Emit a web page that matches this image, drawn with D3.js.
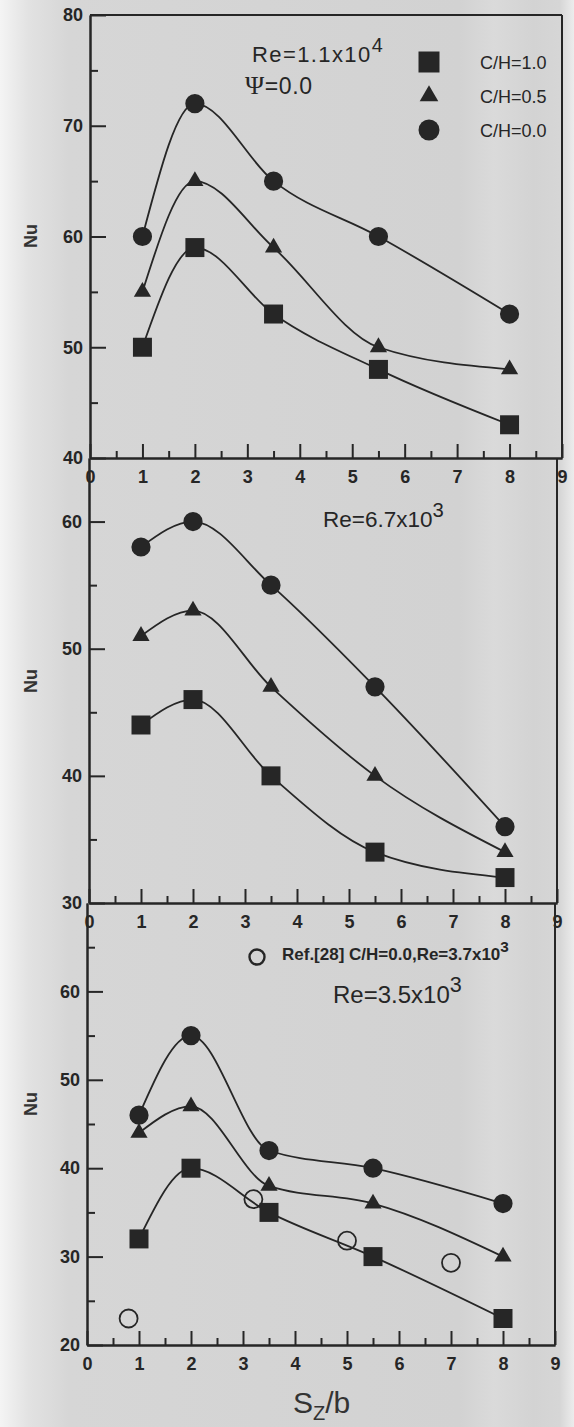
<!DOCTYPE html>
<html>
<head>
<meta charset="utf-8">
<script src="https://cdn.jsdelivr.net/npm/d3@7"></script>
<style>
  body { margin: 0; background: #d3d3d3; }
  svg { display: block; }
</style>
</head>
<body>
<svg id="chart" width="574" height="1427"></svg>
<script>

// spacing S_z/b where Nu was measured
const spacing = [1, 2, 3.5, 5.5, 8];

// Re = 1.1x10^4, psi = 0
const nuRe11kCH10 = [50, 59, 53, 48, 43];
const nuRe11kCH05 = [55, 65, 59, 50, 48];
const nuRe11kCH00 = [60, 72, 65, 60, 53];

// Re = 6.7x10^3
const nuRe67CH10 = [44, 46, 40, 34, 32];
const nuRe67CH05 = [51, 53, 47, 40, 34];
const nuRe67CH00 = [58, 60, 55, 47, 36];

// Re = 3.5x10^3
const nuRe35CH10 = [32, 40, 35, 30, 23];
const nuRe35CH05 = [44, 47, 38, 36, 30];
const nuRe35CH00 = [46, 55, 42, 40, 36];

// Ref.[28] C/H=0.0, Re=3.7x10^3 (open circles)
const refSpacing = [0.8, 3.2, 5, 7];
const refNu = [23, 36.5, 31.8, 29.3];

// ticks
const xMajor = [0, 1, 2, 3, 4, 5, 6, 7, 8, 9];
const xMinor = [0.5, 1.5, 2.5, 3.5, 4.5, 5.5, 6.5, 7.5, 8.5];
const legendLabels = ["C/H=1.0", "C/H=0.5", "C/H=0.0"];
const shapes = ["square", "triangle", "circle"];

const ink = "#262626";
const font = "'Liberation Sans', Arial, sans-serif";

const svg = d3.select("#chart");

// background: scanned page, whiter at the left edge
const defs = svg.append("defs");
const grad = defs.append("linearGradient").attr("id", "bg")
  .attr("x1", 0).attr("x2", 1).attr("y1", 0).attr("y2", 0);
[[0, "#f4f4f4"], [0.05, "#e2e2e2"], [0.12, "#d6d6d6"], [0.8, "#d2d2d2"],
 [0.86, "#dadada"], [0.93, "#d3d3d3"], [0.975, "#d6d6d6"], [1, "#ececec"]]
  .forEach(s => grad.append("stop").attr("offset", s[0]).attr("stop-color", s[1]));
svg.append("rect").attr("width", 574).attr("height", 1427).attr("fill", "url(#bg)");

// panel layout (data comes from the arrays above)
const panels = [
  {
    series: [nuRe11kCH10, nuRe11kCH05, nuRe11kCH00],
    yDomain: [40, 80], yRange: [458, 15], xRange: [90, 562],
    yMajor: [40, 50, 60, 70, 80], yMinor: [45, 55, 65, 75],
    nuY: 236, topBorder: true
  },
  {
    series: [nuRe67CH10, nuRe67CH05, nuRe67CH00],
    yDomain: [30, 65], yRange: [903, 458], xRange: [89, 557],
    yMajor: [30, 40, 50, 60], yMinor: [35, 45, 55],
    nuY: 681, topBorder: false
  },
  {
    series: [nuRe35CH10, nuRe35CH05, nuRe35CH00],
    yDomain: [20, 70], yRange: [1345, 903], xRange: [87, 555],
    yMajor: [20, 30, 40, 50, 60], yMinor: [25, 35, 45, 55, 65],
    nuY: 1104, topBorder: false
  }
];

function symbolPath(shape, big)
{
  let type = d3.symbolSquare, size = big ? 441 : 361;
  if (shape === "triangle") {
    type = d3.symbolTriangle; size = big ? 150 : 128;
  }
  if (shape === "circle") {
    type = d3.symbolCircle; size = big ? 346 : 290;
  }
  return d3.symbol().type(type).size(size)();
}

function styleAxis(g)
{
  g.select(".domain").attr("stroke", ink).attr("stroke-width", 2);
  g.selectAll(".tick line").attr("stroke", ink).attr("stroke-width", 2);
  g.selectAll(".tick text")
    .attr("fill", ink)
    .attr("font-family", font)
    .attr("font-weight", "bold")
    .attr("font-size", 18);
}

function drawPanel(p, idx)
{
  let x = d3.scaleLinear().domain([0, 9]).range(p.xRange);
  let y = d3.scaleLinear().domain(p.yDomain).range(p.yRange);
  let g = svg.append("g");

  // frame: right border, top border for the first panel
  g.append("line")
    .attr("x1", x(9)).attr("x2", x(9))
    .attr("y1", p.yRange[1]).attr("y2", p.yRange[0])
    .attr("stroke", ink).attr("stroke-width", 2);
  if (p.topBorder)
    g.append("line")
      .attr("x1", x(0)).attr("x2", x(9))
      .attr("y1", p.yRange[1]).attr("y2", p.yRange[1])
      .attr("stroke", ink).attr("stroke-width", 2);

  // y axis
  g.append("g")
    .attr("transform", "translate(" + x(0) + ",0)")
    .call(d3.axisLeft(y).tickValues(p.yMinor).tickSizeInner(-8)
      .tickSizeOuter(0).tickFormat(""))
    .call(styleAxis);
  g.append("g")
    .attr("transform", "translate(" + x(0) + ",0)")
    .call(d3.axisLeft(y).tickValues(p.yMajor).tickSizeInner(-16)
      .tickSizeOuter(0).tickPadding(7).tickFormat(d3.format("d")))
    .call(styleAxis);

  // x axis
  g.append("g")
    .attr("transform", "translate(0," + p.yRange[0] + ")")
    .call(d3.axisBottom(x).tickValues(xMinor).tickSizeInner(-7)
      .tickSizeOuter(0).tickFormat(""))
    .call(styleAxis);
  g.append("g")
    .attr("transform", "translate(0," + p.yRange[0] + ")")
    .call(d3.axisBottom(x).tickValues(xMajor).tickSizeInner(-14)
      .tickSizeOuter(0).tickPadding(12).tickFormat(d3.format("d")))
    .call(styleAxis);

  // Nu title
  g.append("text")
    .attr("transform", "translate(37," + p.nuY + ") rotate(-90)")
    .attr("text-anchor", "middle")
    .attr("font-family", font).attr("font-weight", "bold")
    .attr("font-size", 18).attr("fill", "#333")
    .text("Nu");

  // smooth curves + markers
  let line = d3.line()
    .x(d => x(d[0]))
    .y(d => y(d[1]))
    .curve(d3.curveMonotoneX);

  p.series.forEach((vals, iSeries) => {
    let pts = spacing.map((s, i) => [s, vals[i]]);
    g.append("path")
      .attr("d", line(pts))
      .attr("fill", "none").attr("stroke", ink).attr("stroke-width", 1.8);
    g.selectAll(null).data(pts).enter().append("path")
      .attr("transform", d => "translate(" + x(d[0]) + "," + y(d[1]) + ")")
      .attr("d", symbolPath(shapes[iSeries], false))
      .attr("fill", ink);
  });

  return { x: x, y: y, g: g };
}

let sc = panels.map(drawPanel);

// legend, top panel
let leg = svg.append("g");
legendLabels.forEach((lab, i) => {
  let cy = 62 + i * 34;
  leg.append("path")
    .attr("transform", "translate(429," + cy + ")")
    .attr("d", symbolPath(shapes[i], true))
    .attr("fill", ink);
  leg.append("text")
    .attr("x", 480).attr("y", cy + 7)
    .attr("font-family", font).attr("font-size", 18)
    .attr("fill", ink)
    .text(lab);
});

// annotation helper: base text plus superscript
function reText(x, y, base, sup, size)
{
  let t = svg.append("text")
    .attr("x", x).attr("y", y)
    .attr("font-family", font).attr("font-size", size)
    .attr("fill", ink);
  t.append("tspan").text(base);
  t.append("tspan").attr("dy", -size * 0.45)
    .attr("font-size", size * 0.9).text(sup);
  return t;
}

reText(252, 62, "Re=1.1x10", "4", 22).attr("letter-spacing", 1.4);
let psi = svg.append("text")
  .attr("x", 245).attr("y", 94)
  .attr("font-family", font).attr("font-size", 23).attr("fill", ink)
  .attr("letter-spacing", 0.6);
psi.append("tspan").attr("font-family", "'Liberation Serif', 'DejaVu Serif', serif")
  .attr("font-size", 26).text("\u03A8");
psi.append("tspan").text("=0.0");

reText(323, 527, "Re=6.7x10", "3", 22.5);
reText(333, 1003, "Re=3.5x10", "3", 24);

// Ref.[28] data, open circles
let p3 = sc[2];
p3.g.selectAll(null)
  .data(refSpacing.map((s, i) => [s, refNu[i]]))
  .enter().append("circle")
  .attr("cx", d => p3.x(d[0])).attr("cy", d => p3.y(d[1]))
  .attr("r", 9)
  .attr("fill", "none").attr("stroke", ink).attr("stroke-width", 1.8);

svg.append("circle")
  .attr("cx", 257).attr("cy", 957).attr("r", 7.5)
  .attr("fill", "none").attr("stroke", ink).attr("stroke-width", 2.4);
reText(282, 960, "Ref.[28] C/H=0.0,Re=3.7x10", "3", 17)
  .attr("font-weight", "bold");

// x axis title S_z/b
let xt = svg.append("text")
  .attr("x", 293).attr("y", 1413)
  .attr("font-family", font).attr("font-size", 30).attr("fill", "#333");
xt.append("tspan").text("S");
xt.append("tspan").attr("font-size", 20).attr("dy", 7).text("Z");
xt.append("tspan").attr("dy", -7).text("/b");

</script>
</body>
</html>
